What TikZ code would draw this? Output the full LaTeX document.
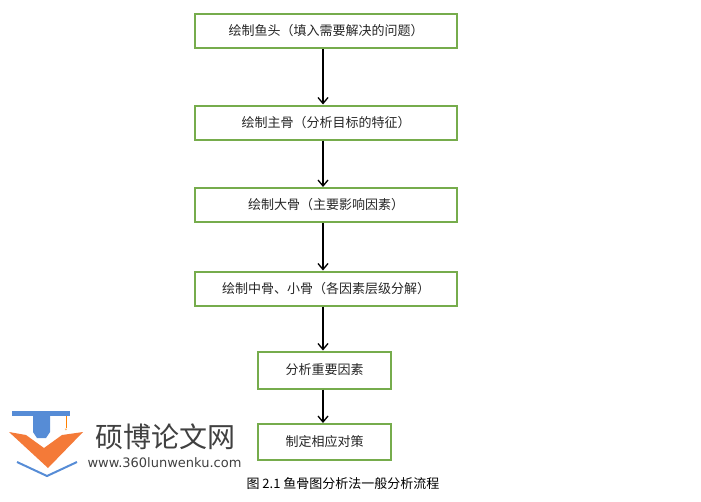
\documentclass[tikz,border=0pt]{standalone}
\usepackage{fontspec}
\usetikzlibrary{arrows.meta}
\newfontfamily\cjk{Noto Sans CJK SC}
\begin{document}
\begin{tikzpicture}[x=1pt,y=-1pt,
  box/.style={draw=bgreen, line width=2pt, minimum height=34pt, font=\cjk\fontsize{13}{15}\selectfont, inner sep=0pt, text=black!85},
  arr/.style={-{Straight Barb[length=6pt,width=10pt]}, line width=1.3pt}]
\definecolor{bgreen}{RGB}{118,172,76}
\useasboundingbox (0,0) rectangle (701,501);
\node[box, minimum width=262pt] (a) at (326,31) {绘制鱼头（填入需要解决的问题）};
\node[box, minimum width=262pt] (b) at (326,122.5) {绘制主骨（分析目标的特征）};
\node[box, minimum width=262pt] (c) at (326,205) {绘制大骨（主要影响因素）};
\node[box, minimum width=262pt] (d) at (326,288.5) {绘制中骨、小骨（各因素层级分解）};
\node[box, minimum width=133pt, minimum height=37pt] (e) at (324.5,370) {分析重要因素};
\node[box, minimum width=133pt, minimum height=36pt] (f) at (324.5,442) {制定相应对策};
\foreach \p/\q in {a/b,b/c,c/d,d/e,e/f}
  \draw[arr] (\p.south -| 323,0) -- (\q.north -| 323,0);
\node[font=\cjk\fontsize{13}{15}\selectfont] (cap) at (343,484) {图 2.1 鱼骨图分析法一般分析流程};
% watermark logo
\definecolor{lblue}{RGB}{86,140,214}
\definecolor{lorange}{RGB}{244,122,56}
\fill[lblue] (12,411) -- (70,411) -- (70,416) -- (12,416) -- cycle;
\fill[lblue] (33,416) -- (50,416) -- (50,432) -- (46,438) -- (37,438) -- (33,432) -- cycle;
\draw[orange, line width=0.8pt] (66,416) -- (66,428);
\node[text=orange, font=\tiny, inner sep=0] (star) at (66,431) {*};
\fill[lorange] (9,432) -- (26,435) -- (44,448) -- (62,435) -- (83,432) -- (48,468) -- cycle;
\draw[lblue, line width=2pt] (17,462) -- (47,476) -- (77,462);
\node[font=\cjk\fontsize{28}{30}\selectfont, text=black!75, anchor=west] (t1) at (92,437) {硕博论文网};
\node[font=\fontspec{DejaVu Sans}\fontsize{13}{15}\selectfont, text=black!75, anchor=west] (t2) at (84,463) {www.360lunwenku.com};
\end{tikzpicture}
\end{document}
